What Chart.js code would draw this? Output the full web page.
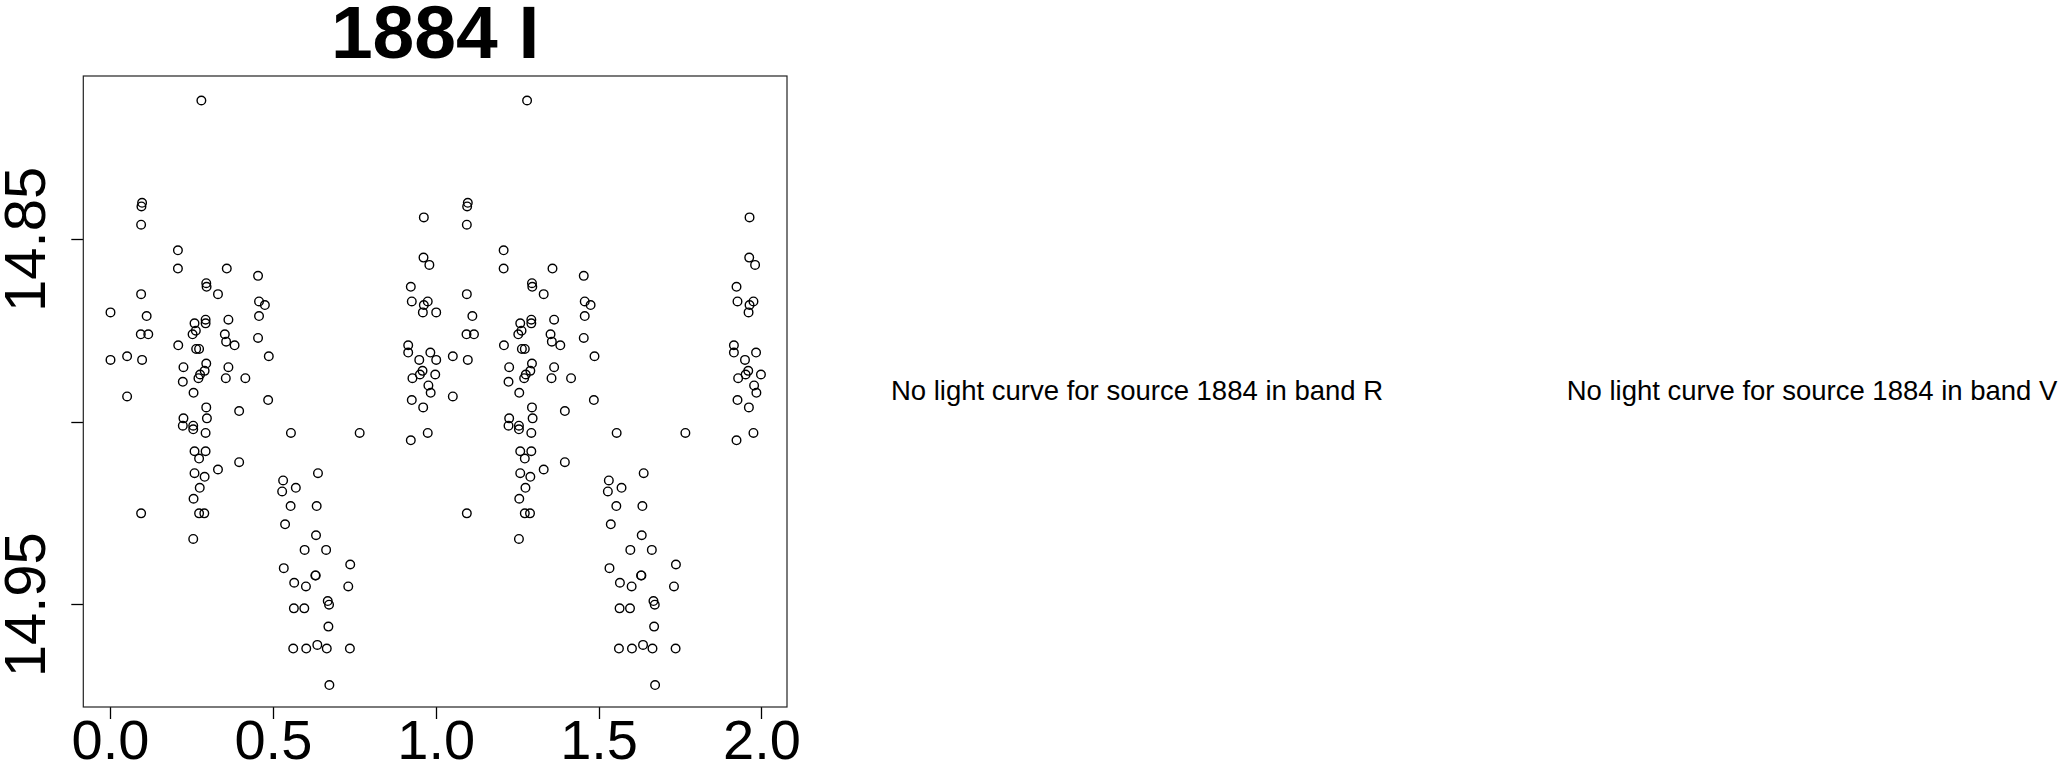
<!DOCTYPE html>
<html>
<head>
<meta charset="utf-8">
<title>1884 I</title>
<script src="https://cdn.jsdelivr.net/npm/chart.js@4/dist/chart.umd.min.js"></script>
<style>
    html, body { margin: 0; padding: 0; background: #fff; }
    body { width: 2064px; height: 767px; position: relative; overflow: hidden; font-family: 'Liberation Sans', Arial, sans-serif; }
    #lc { position: absolute; left: 0; top: 0; }
    .nolc { position: absolute; transform: translate(-50%, -50%); white-space: nowrap; font-size: 27.5px; color: #000; }
</style>
</head>
<body>
<canvas id="lc" width="870" height="767"></canvas>
<div class="nolc" style="left:1137px; top:391px;">No light curve for source 1884 in band R</div>
<div class="nolc" style="left:1812px; top:391px;">No light curve for source 1884 in band V</div>
<script>
// 相位 (0..1)，图上每个点画两次：phase 和 phase + 1
const phase = [
    0.279, 0.097, 0.095, 0.094, 0.207, 0.207, 0.357, 0.453, 0.294, 0.295,
    0.330, 0.094, 0.456, 0.474, 0.000, 0.111, 0.456, 0.292, 0.362, 0.258,
    0.292, 0.262, 0.252, 0.093, 0.116, 0.351, 0.355, 0.453, 0.208, 0.381,
    0.263, 0.272, 0.000, 0.051, 0.097, 0.486, 0.294, 0.224, 0.362, 0.289,
    0.275, 0.270, 0.354, 0.414, 0.222, 0.255, 0.051, 0.484,
    0.294, 0.395, 0.224, 0.296, 0.222, 0.254, 0.254, 0.292, 0.258, 0.292,
    0.272, 0.395, 0.330, 0.258, 0.289, 0.274, 0.255, 0.094, 0.272, 0.288, 0.254,
    0.962, 0.961, 0.979, 0.922, 0.925, 0.974, 0.962, 0.959, 0.914, 0.914,
    0.982, 0.948, 0.958, 0.950, 0.997, 0.927, 0.976, 0.983, 0.925,
    0.960, 0.554, 0.765, 0.922, 0.974, 0.637, 0.530, 0.527, 0.569, 0.553,
    0.633, 0.536, 0.631, 0.596, 0.662, 0.736, 0.532, 0.629, 0.630, 0.564,
    0.600, 0.730, 0.667, 0.671, 0.563, 0.595, 0.669, 0.561, 0.601, 0.635,
    0.664, 0.735, 0.672
];

// 星等 (I band)
const mag = [
    14.812, 14.840, 14.841, 14.846, 14.853, 14.858, 14.858, 14.860, 14.862, 14.863,
    14.865, 14.865, 14.867, 14.868, 14.870, 14.871, 14.871, 14.872, 14.872, 14.873,
    14.873, 14.875, 14.876, 14.876, 14.876, 14.876, 14.878, 14.877, 14.879, 14.879,
    14.880, 14.880, 14.883, 14.882, 14.883, 14.882, 14.884, 14.885, 14.885, 14.886,
    14.887, 14.888, 14.888, 14.888, 14.889, 14.892, 14.893, 14.894,
    14.896, 14.897, 14.899, 14.899, 14.901, 14.901, 14.902, 14.903, 14.908, 14.908,
    14.910, 14.911, 14.913, 14.914, 14.915, 14.918, 14.921, 14.925, 14.925, 14.925, 14.932,
    14.844, 14.855, 14.857, 14.863, 14.867, 14.867, 14.868, 14.870, 14.879, 14.881,
    14.881, 14.883, 14.886, 14.887, 14.887, 14.888, 14.890, 14.892, 14.894,
    14.896, 14.903, 14.903, 14.905, 14.903, 14.914, 14.916, 14.919, 14.918, 14.923,
    14.923, 14.928, 14.931, 14.935, 14.935, 14.939, 14.940, 14.942, 14.942, 14.944,
    14.945, 14.945, 14.949, 14.950, 14.951, 14.951, 14.956, 14.962, 14.962, 14.961,
    14.962, 14.962, 14.972
];

const xTicks = [0, 0.5, 1, 1.5, 2];
const xTickLabels = ['0.0', '0.5', '1.0', '1.5', '2.0'];
const yTicks = [14.85, 14.90, 14.95];
const yTickLabels = ['14.85', '', '14.95'];   // 14.90 的标签在原图里被省略
const xRange = [-0.0835, 2.077];
const yRange = [14.8053, 14.978];
const titleText = '1884 I';

(function(window, document){
    'use strict';

    Chart.defaults.font.family = "'Liberation Sans', Arial, sans-serif";
    Chart.defaults.color = '#000';

    // 两个周期
    const points = [];
    for (let k = 0; k < 2; k++) {
        phase.forEach((p, i) => points.push({ x: p + k, y: mag[i] }));
    }

    // 外框
    const boxPlugin = {
        id: 'box',
        afterDraw(chart) {
            const a = chart.chartArea, ctx = chart.ctx;
            ctx.save();
            ctx.strokeStyle = '#222';
            ctx.lineWidth = 1.2;
            ctx.strokeRect(a.left, a.top, a.right - a.left, a.bottom - a.top);
            ctx.restore();
        }
    };

    const tickGrid = { display: true, drawOnChartArea: false, drawTicks: true, tickLength: 12, tickColor: '#000', tickWidth: 1.3 };

    new Chart(document.getElementById('lc'), {
        type: 'scatter',
        data: {
            datasets: [{
                data: points,
                pointStyle: 'circle',
                pointRadius: 4.3,
                pointHoverRadius: 4.3,
                borderWidth: 1.4,
                borderColor: '#000',
                backgroundColor: 'rgba(0,0,0,0)'
            }]
        },
        options: {
            responsive: false,
            animation: false,
            devicePixelRatio: 1,
            layout: { padding: { left: 0, right: 83, top: 0, bottom: 0 } },
            plugins: {
                legend: { display: false },
                tooltip: { enabled: false },
                title: {
                    display: true,
                    text: titleText,
                    fullSize: false,
                    color: '#000',
                    font: { size: 75, weight: 'bold', lineHeight: 0.72 },
                    padding: { top: 10, bottom: 12 }
                }
            },
            scales: {
                x: {
                    type: 'linear',
                    min: xRange[0],
                    max: xRange[1],
                    border: { display: false },
                    grid: tickGrid,
                    afterBuildTicks: s => { s.ticks = xTicks.map(v => ({ value: v })); },
                    afterFit: s => { s.height = 60; s.paddingLeft = 0; s.paddingRight = 0; },
                    ticks: {
                        autoSkip: false, maxRotation: 0, minRotation: 0, padding: -9,
                        font: { size: 56 },
                        callback: (v, i) => xTickLabels[i]
                    }
                },
                y: {
                    type: 'linear',
                    reverse: true,
                    min: yRange[0],
                    max: yRange[1],
                    border: { display: false },
                    grid: tickGrid,
                    afterBuildTicks: s => { s.ticks = yTicks.map(v => ({ value: v })); },
                    afterFit: s => { s.width = 83.3; s.paddingTop = 0; s.paddingBottom = 0; },
                    ticks: {
                        autoSkip: false, minRotation: 90, maxRotation: 90,
                        crossAlign: 'center', padding: -30,
                        font: { size: 58 },
                        callback: (v, i) => yTickLabels[i]
                    }
                }
            }
        },
        plugins: [boxPlugin]
    });
})(window, document);
</script>
</body>
</html>
